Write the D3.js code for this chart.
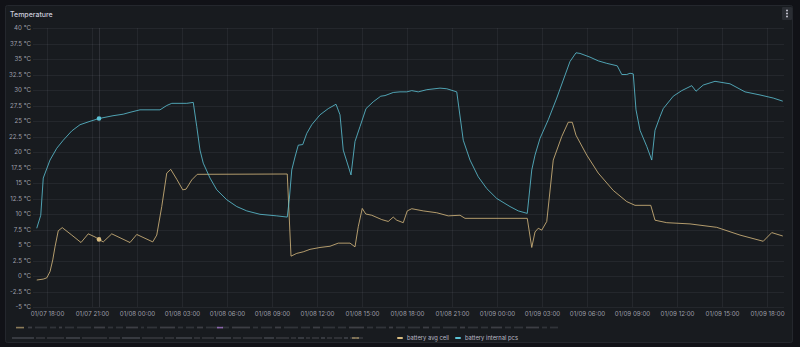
<!DOCTYPE html>
<html>
<head>
<meta charset="utf-8">
<script src="https://cdn.jsdelivr.net/npm/d3@7"></script>
<style>
html, body { margin: 0; padding: 0; background: #111217; }
svg { display: block; font-family: Inter, "Noto Sans", sans-serif; }
</style>
</head>
<body>
<div id="vis"></div>
<script>
// series: battery avg cell
var cellTimes = ["2024-01-07 17:19","2024-01-07 17:45","2024-01-07 17:59","2024-01-07 18:12","2024-01-07 18:23","2024-01-07 18:32","2024-01-07 18:45","2024-01-07 19:01","2024-01-07 19:39","2024-01-07 20:16","2024-01-07 20:45","2024-01-07 21:12","2024-01-07 21:32","2024-01-07 21:45","2024-01-07 22:19","2024-01-07 23:32","2024-01-07 23:59","2024-01-08 01:03","2024-01-08 01:19","2024-01-08 01:39","2024-01-08 01:59","2024-01-08 02:15","2024-01-08 02:39","2024-01-08 03:03","2024-01-08 03:16","2024-01-08 03:39","2024-01-08 04:01","2024-01-08 10:01","2024-01-08 10:16","2024-01-08 10:39","2024-01-08 11:05","2024-01-08 11:32","2024-01-08 12:12","2024-01-08 12:52","2024-01-08 13:25","2024-01-08 14:12","2024-01-08 14:32","2024-01-08 14:45","2024-01-08 15:01","2024-01-08 15:15","2024-01-08 15:39","2024-01-08 16:19","2024-01-08 16:45","2024-01-08 17:05","2024-01-08 17:19","2024-01-08 17:45","2024-01-08 18:01","2024-01-08 18:19","2024-01-08 19:05","2024-01-08 19:59","2024-01-08 20:45","2024-01-08 21:32","2024-01-08 21:52","2024-01-09 02:01","2024-01-09 02:19","2024-01-09 02:32","2024-01-09 02:45","2024-01-09 02:59","2024-01-09 03:19","2024-01-09 03:45","2024-01-09 04:19","2024-01-09 04:45","2024-01-09 05:01","2024-01-09 05:16","2024-01-09 05:59","2024-01-09 06:45","2024-01-09 07:45","2024-01-09 08:39","2024-01-09 09:12","2024-01-09 10:15","2024-01-09 10:32","2024-01-09 11:19","2024-01-09 12:52","2024-01-09 14:39","2024-01-09 16:12","2024-01-09 17:45","2024-01-09 18:19","2024-01-09 19:03"];
var cellValues = [-0.65,-0.5,-0.3,0.7,2.6,4.7,7.3,7.8,6.6,5.4,6.8,6.3,5.8,5.5,6.8,5.4,6.7,5.5,6.6,11.2,16.6,17.2,15.6,13.9,14.0,15.5,16.4,16.45,3.2,3.65,3.9,4.3,4.6,4.8,5.3,5.3,4.7,7.95,10.9,10.0,9.8,9.1,8.8,9.5,9.0,8.6,10.5,10.85,10.5,10.2,9.7,9.8,9.3,9.3,4.6,7.1,7.7,7.4,8.8,18.7,22.5,24.8,24.8,22.7,19.5,16.6,13.8,12.0,11.4,11.4,9.0,8.6,8.4,7.85,6.6,5.6,7.0,6.45];

// series: battery internal pcs
var pcsTimes = ["2024-01-07 17:19","2024-01-07 17:35","2024-01-07 17:45","2024-01-07 18:12","2024-01-07 18:39","2024-01-07 19:05","2024-01-07 19:39","2024-01-07 20:12","2024-01-07 20:52","2024-01-07 21:28","2024-01-07 22:24","2024-01-07 23:05","2024-01-07 23:32","2024-01-08 00:12","2024-01-08 01:32","2024-01-08 01:59","2024-01-08 02:19","2024-01-08 03:19","2024-01-08 03:45","2024-01-08 03:59","2024-01-08 04:12","2024-01-08 04:25","2024-01-08 04:52","2024-01-08 05:19","2024-01-08 05:59","2024-01-08 06:39","2024-01-08 07:19","2024-01-08 08:12","2024-01-08 09:19","2024-01-08 10:01","2024-01-08 10:09","2024-01-08 10:19","2024-01-08 10:32","2024-01-08 10:45","2024-01-08 11:03","2024-01-08 11:19","2024-01-08 11:39","2024-01-08 12:12","2024-01-08 12:45","2024-01-08 13:16","2024-01-08 13:32","2024-01-08 13:45","2024-01-08 14:16","2024-01-08 14:32","2024-01-08 14:52","2024-01-08 15:16","2024-01-08 15:45","2024-01-08 16:15","2024-01-08 16:32","2024-01-08 17:05","2024-01-08 17:32","2024-01-08 17:59","2024-01-08 18:19","2024-01-08 18:45","2024-01-08 19:19","2024-01-08 20:12","2024-01-08 20:39","2024-01-08 21:19","2024-01-08 21:45","2024-01-08 22:12","2024-01-08 22:45","2024-01-08 23:19","2024-01-08 23:59","2024-01-09 00:52","2024-01-09 01:25","2024-01-09 02:01","2024-01-09 02:19","2024-01-09 02:32","2024-01-09 02:52","2024-01-09 03:25","2024-01-09 03:59","2024-01-09 04:25","2024-01-09 04:52","2024-01-09 05:16","2024-01-09 05:32","2024-01-09 06:12","2024-01-09 06:45","2024-01-09 07:19","2024-01-09 08:01","2024-01-09 08:19","2024-01-09 08:39","2024-01-09 08:52","2024-01-09 09:05","2024-01-09 09:16","2024-01-09 09:32","2024-01-09 09:59","2024-01-09 10:19","2024-01-09 10:32","2024-01-09 10:52","2024-01-09 11:05","2024-01-09 11:45","2024-01-09 12:19","2024-01-09 12:59","2024-01-09 13:16","2024-01-09 13:45","2024-01-09 14:32","2024-01-09 15:32","2024-01-09 16:32","2024-01-09 17:32","2024-01-09 18:25","2024-01-09 19:03"];
var pcsValues = [7.7,9.8,15.8,18.7,20.6,21.9,23.4,24.4,24.95,25.4,25.85,26.1,26.4,26.8,26.8,27.5,27.85,27.85,28.0,24.1,20.3,18.2,15.8,13.9,12.3,11.2,10.5,9.95,9.7,9.5,12.3,17.1,19.2,21.1,21.2,23.0,24.4,26.0,27.0,27.7,26.0,20.3,16.3,21.7,24.1,27.0,28.1,29.0,29.1,29.6,29.7,29.7,29.9,29.7,30.05,30.3,30.2,29.7,21.9,18.7,16.0,14.1,12.5,11.2,10.5,10.1,17.1,19.5,22.2,25.2,28.7,31.6,34.6,36.0,35.9,35.3,34.7,34.3,33.9,32.5,32.5,32.7,32.6,26.8,23.5,20.9,18.7,23.5,25.7,27.0,29.0,29.9,30.7,29.8,30.8,31.4,31.0,29.7,29.2,28.7,28.2];

var yTicks = [-5, -2.5, 0, 2.5, 5, 7.5, 10, 12.5, 15, 17.5, 20, 22.5, 25, 27.5, 30, 32.5, 35, 37.5, 40];
var xTicks = ["2024-01-07 18:00","2024-01-07 21:00","2024-01-08 00:00","2024-01-08 03:00","2024-01-08 06:00","2024-01-08 09:00","2024-01-08 12:00","2024-01-08 15:00","2024-01-08 18:00","2024-01-08 21:00","2024-01-09 00:00","2024-01-09 03:00","2024-01-09 06:00","2024-01-09 09:00","2024-01-09 12:00","2024-01-09 15:00","2024-01-09 18:00"];
var timeRange = ["2024-01-07 17:04", "2024-01-09 19:08"];
var hoverTime = "2024-01-07 21:28";

var seriesNames = ["battery avg cell", "battery internal pcs"];
var seriesColors = ["#d9bc80", "#5cc3d6"];

var width = 800, height = 347;
var parse = d3.timeParse("%Y-%m-%d %H:%M");

var plot = { left: 33, right: 784, top: 28, bottom: 307 };

var svg = d3.select('#vis').append('svg')
	.attr('width', width)
	.attr('height', height);

// page + panel
svg.append('rect').attr('width', width).attr('height', height).attr('fill', '#111217');
svg.append('rect')
	.attr('x', 5.5).attr('y', 5.5)
	.attr('width', 787).attr('height', 337)
	.attr('rx', 2)
	.attr('fill', '#181b1f')
	.attr('stroke', '#24272d');

svg.append('text')
	.attr('x', 10).attr('y', 17)
	.attr('fill', '#ccccdc')
	.style('font-size', '7px')
	.style('font-weight', 500)
	.text('Temperature');

// panel menu button
svg.append('rect')
	.attr('x', 782).attr('y', 7).attr('width', 10).attr('height', 13).attr('rx', 1)
	.attr('fill', '#2a2d33');
[10.5, 13.5, 16.5].forEach(function(cy) {
	svg.append('rect').attr('x', 786).attr('y', cy - 0.8).attr('width', 2).attr('height', 1.6).attr('fill', '#b8b8c4');
});

var x = d3.scaleTime()
	.domain(timeRange.map(parse))
	.range([plot.left, plot.right]);

var y = d3.scaleLinear()
	.domain([-5, 40])
	.range([plot.bottom, plot.top]);

// grid
var grid = svg.append('g').attr('stroke', 'rgba(204,204,220,0.07)').attr('stroke-width', 1);
yTicks.forEach(function(v) {
	var yy = Math.round(y(v)) + 0.5;
	grid.append('line').attr('x1', plot.left).attr('x2', plot.right).attr('y1', yy).attr('y2', yy);
});
xTicks.forEach(function(t) {
	var xx = Math.round(x(parse(t))) + 0.5;
	grid.append('line').attr('x1', xx).attr('x2', xx).attr('y1', plot.top).attr('y2', plot.bottom);
});

// axes
var yAxis = d3.axisLeft(y)
	.tickValues(yTicks)
	.tickSize(0)
	.tickPadding(2)
	.tickFormat(function(d) { return d + ' °C'; });

svg.append('g')
	.attr('transform', 'translate(' + plot.left + ',0)')
	.call(yAxis)
	.call(function(g) { g.select('.domain').remove(); })
	.selectAll('text')
	.attr('fill', 'rgba(204,204,220,0.75)')
	.style('font-size', '6.2px')
	.style('font-family', 'Inter, sans-serif');

var xAxis = d3.axisBottom(x)
	.tickValues(xTicks.map(parse))
	.tickSize(0)
	.tickPadding(5)
	.tickFormat(d3.timeFormat('%m/%d %H:%M'));

svg.append('g')
	.attr('transform', 'translate(0,' + plot.bottom + ')')
	.call(xAxis)
	.call(function(g) { g.select('.domain').remove(); })
	.selectAll('text')
	.attr('fill', 'rgba(204,204,220,0.75)')
	.style('font-size', '6.2px')
	.style('font-family', 'Inter, sans-serif');

// series
var cell = cellTimes.map(function(t, i) { return { t: parse(t), v: cellValues[i] }; });
var pcs = pcsTimes.map(function(t, i) { return { t: parse(t), v: pcsValues[i] }; });

var line = d3.line()
	.x(function(d) { return x(d.t); })
	.y(function(d) { return y(d.v); });

[cell, pcs].forEach(function(data, i) {
	svg.append('path')
		.datum(data)
		.attr('d', line)
		.attr('fill', 'none')
		.attr('stroke', seriesColors[i])
		.attr('stroke-opacity', 0.8)
		.attr('stroke-width', 1)
		.attr('stroke-linejoin', 'round');
});

// hover crosshair + points
var ht = parse(hoverTime);
svg.append('line')
	.attr('x1', Math.round(x(ht)) + 0.5).attr('x2', Math.round(x(ht)) + 0.5)
	.attr('y1', plot.top).attr('y2', plot.bottom)
	.attr('stroke', 'rgba(204,204,220,0.12)');

function valueAt(data, t) {
	var i = d3.bisector(function(d) { return d.t; }).left(data, t);
	if (i <= 0) return data[0].v;
	var a = data[i - 1], b = data[i];
	var k = (t - a.t) / (b.t - a.t);
	return a.v + (b.v - a.v) * k;
}

[cell, pcs].forEach(function(data, i) {
	svg.append('circle')
		.attr('cx', x(ht))
		.attr('cy', y(valueAt(data, ht)))
		.attr('r', 2.3)
		.attr('fill', seriesColors[i]);
});

// legend: hidden series (unreadable, blurred in the source) drawn as faint marks
var legendRow1 = [4, 12, 6, 3, 9, 14, 11, 5, 7, 12, 3, 10, 15, 5, 8, 6, 13, 7, 18, 5, 11, 6, 14, 9, 7, 12, 8, 15, 6, 10, 4, 9, 12, 6, 8, 14, 5, 10, 7, 11, 6, 9, 13, 5, 8];
var legendRow2 = [22, 9, 17, 14, 25, 11, 18, 21, 9, 16, 6, 12, 15, 8, 19, 10, 13, 5, 6, 4, 7, 4, 5, 8, 4, 5, 6];
function fakeRow(widths, x0, yy, gap) {
	var xx = x0;
	widths.forEach(function(w, i) {
		svg.append('rect')
			.attr('x', xx).attr('y', yy - 0.9)
			.attr('width', w).attr('height', 1.8)
			.attr('fill', 'rgba(204,204,220,' + (i % 3 === 0 ? 0.2 : 0.14) + ')');
		xx += w + gap;
	});
}
fakeRow(legendRow1, 28, 327.5, 3);
fakeRow(legendRow2, 12, 338, 2);
svg.append('rect').attr('x', 16).attr('y', 326.8).attr('width', 8).attr('height', 1.6).attr('fill', 'rgba(217,188,128,0.6)');
svg.append('rect').attr('x', 217).attr('y', 326.8).attr('width', 6).attr('height', 1.6).attr('fill', 'rgba(181,128,224,0.7)');
svg.append('rect').attr('x', 352).attr('y', 337.2).attr('width', 7).attr('height', 1.6).attr('fill', 'rgba(217,188,128,0.6)');

var legend = svg.append('g');
var lx = 397;
seriesNames.forEach(function(name, i) {
	legend.append('rect')
		.attr('x', lx).attr('y', 337).attr('width', 6).attr('height', 2).attr('rx', 1)
		.attr('fill', seriesColors[i]);
	var txt = legend.append('text')
		.attr('x', lx + 10).attr('y', 340)
		.attr('fill', 'rgba(204,204,220,0.9)')
		.style('font-size', '5.8px')
		.text(name);
	lx += 10 + txt.node().getComputedTextLength() + 6;
});
</script>
</body>
</html>
